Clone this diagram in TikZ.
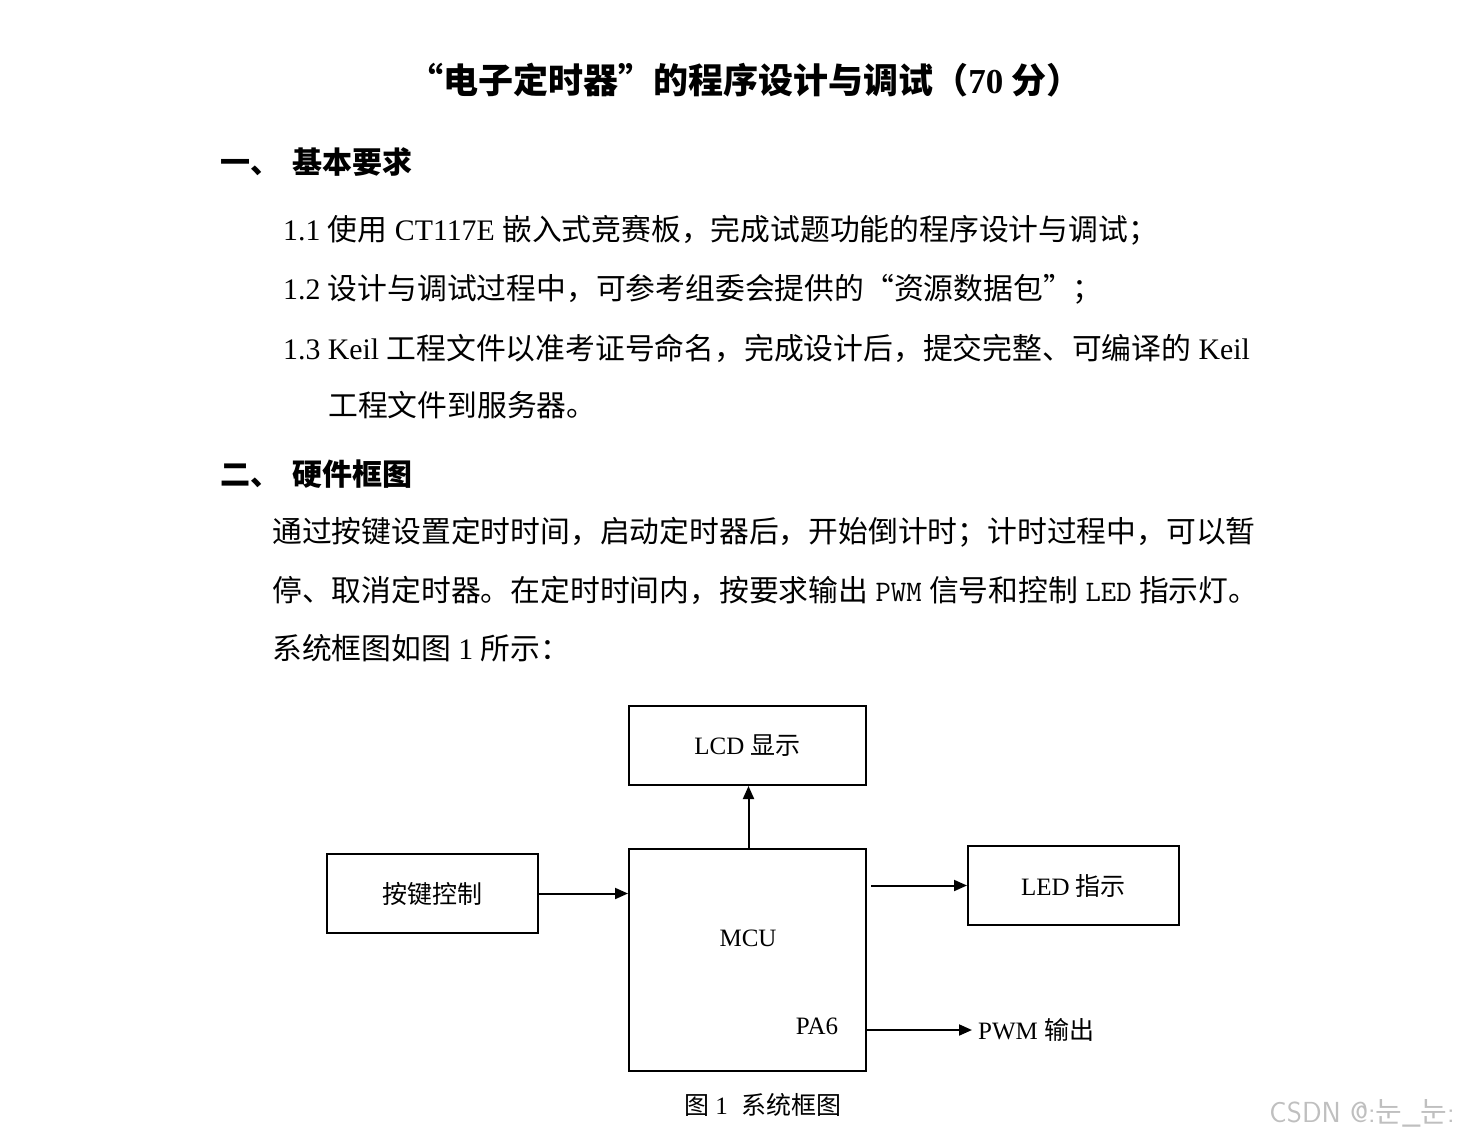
\documentclass[tikz,border=0pt]{standalone}
\usepackage{fontspec}
\setmainfont{Liberation Serif}
\newfontfamily\cjk{Noto Sans CJK SC}
\newfontfamily\kr{Noto Sans CJK KR}
\newcommand{\zh}[1]{{\cjk #1}}
\usetikzlibrary{arrows.meta}
\begin{document}
\begin{tikzpicture}[x=1pt,y=-1pt,
  body/.style={anchor=west,inner sep=0pt,font=\fontsize{29.8}{32}\selectfont},
  head/.style={anchor=west,inner sep=0pt,font=\fontsize{30}{32}\selectfont\bfseries},
  blk/.style={draw,line width=2pt,inner sep=0pt,font=\fontsize{25}{28}\selectfont},
  arr/.style={-{Triangle[length=13pt,width=11pt]},line width=2pt}]
\useasboundingbox (0,0) rectangle (1460,1140);
\node[inner sep=0pt,font=\fontsize{35}{38}\selectfont\bfseries] (title) at (745,80) {\zh{“电子定时器”的程序设计与调试（}70\zh{ 分）}};
\node[head] (h1) at (220,162) {\zh{一、\hspace{12pt}基本要求}};
\node[body] (l11) at (283,230) {1.1 \zh{使用} CT117E \zh{嵌入式竞赛板，完成试题功能的程序设计与调试；}};
\node[body] (l12) at (283,289) {1.2 \zh{设计与调试过程中，可参考组委会提供的“资源数据包”；}};
\node[body] (l13) at (283,348) {1.3 Keil \zh{工程文件以准考证号命名，完成设计后，提交完整、可编译的} Keil};
\node[body] (l14) at (328,405) {\zh{工程文件到服务器。}};
\node[head] (h2) at (220,474) {\zh{二、\hspace{12pt}硬件框图}};
\node[body] (p1) at (272,532) {\zh{通过按键设置定时时间，启动定时器后，开始倒计时；计时过程中，可以暂}};
\node[body] (p2) at (272,590) {\zh{停、取消定时器。在定时时间内，按要求输出} {\ttfamily PWM} \zh{信号和控制} {\ttfamily LED} \zh{指示灯。}};
\node[body] (p3) at (272,648) {\zh{系统框图如图} 1 \zh{所示：}};
\node[blk,minimum width=237pt,minimum height=79pt] (lcd) at (747.5,745.5) {LCD \zh{显示}};
\node[blk,minimum width=237pt,minimum height=222pt] (mcu) at (747.5,960) {};
\node[inner sep=0pt,font=\fontsize{25}{28}\selectfont] (mcut) at (748,938) {MCU};
\node[inner sep=0pt,font=\fontsize{25}{28}\selectfont] (pa6) at (817,1026) {PA6};
\node[blk,minimum width=211pt,minimum height=79pt] (key) at (432.5,893.5) {\zh{按键控制}};
\node[blk,minimum width=211pt,minimum height=79pt] (led) at (1073.5,885.5) {LED \zh{指示}};
\node[anchor=west,inner sep=0pt,font=\fontsize{25}{28}\selectfont] (pwm) at (978,1030) {PWM \zh{输出}};
\draw[arr] (mcu.north -| lcd.south) ++(1,0) coordinate (m1) -- (m1 |- lcd.south);
\draw[arr] (key.east) -- (key.east -| mcu.west);
\draw[arr] ([xshift=4pt]mcu.east |- led.west) -- (led.west);
\draw[arr] (mcu.east |- pwm.west) -- ([xshift=-6pt]pwm.west);
\node[inner sep=0pt,font=\fontsize{25}{28}\selectfont] (cap) at (763,1105) {\zh{图} 1\hspace{14pt}\zh{系统框图}};
\node[anchor=east,inner sep=0pt,text=black!25,font=\fontsize{29}{30}\selectfont\sffamily] (wm) at (1455,1113) {CSDN @:{\kr 눈}\_{\kr 눈}:};
\end{tikzpicture}
\end{document}
